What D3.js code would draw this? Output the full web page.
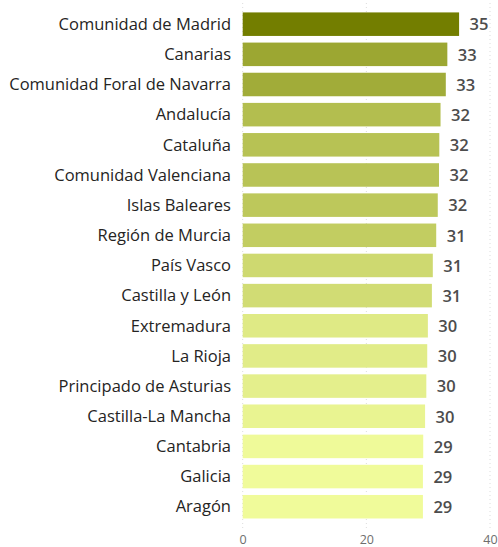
<!DOCTYPE html>
<html><head><meta charset="utf-8">
<script src="https://cdn.jsdelivr.net/npm/d3@7"></script>
<style>body{margin:0;background:#fff;} svg{display:block;}</style>
</head><body><div id="chart"></div>
<script>
const categories = ["Comunidad de Madrid","Canarias","Comunidad Foral de Navarra","Andalucía","Cataluña","Comunidad Valenciana","Islas Baleares","Región de Murcia","País Vasco","Castilla y León","Extremadura","La Rioja","Principado de Asturias","Castilla-La Mancha","Cantabria","Galicia","Aragón"];
const values = [35.0,33.1,32.85,32.0,31.8,31.75,31.55,31.3,30.75,30.6,29.95,29.85,29.7,29.5,29.2,29.15,29.15];
const xTicks = [0,20,40];

const W = 498, H = 547;
const svg = d3.select("#chart").append("svg").attr("width",W).attr("height",H);
const font = "'Open Sans', 'Noto Sans', sans-serif";

const x = d3.scaleLinear().domain([0,40]).range([242.7,490]);
const y = d3.scaleBand().domain(categories).range([9.1,521.8]).paddingInner(0.22).paddingOuter(0.11);
const color = d3.scaleLinear().domain([d3.min(values), d3.max(values)]).range(["#f0fb9a","#737e00"]);

// gridlines
svg.append("g").selectAll("line").data(xTicks).join("line")
  .attr("x1",d=>x(d)).attr("x2",d=>x(d)).attr("y1",3).attr("y2",528)
  .attr("stroke","#dcdcdc").attr("stroke-width",1).attr("stroke-dasharray","1,3");

// bars
svg.append("g").selectAll("rect").data(categories).join("rect")
  .attr("x",x(0)).attr("y",d=>y(d))
  .attr("width",(d,i)=>x(values[i])-x(0)).attr("height",y.bandwidth())
  .attr("fill",(d,i)=>color(values[i]));

// category labels
svg.append("g").selectAll("text").data(categories).join("text")
  .attr("x",231).attr("y",d=>y(d)+y.bandwidth()/2).attr("dy","0.35em")
  .attr("text-anchor","end").attr("font-family",font).attr("font-size","16.5px")
  .attr("fill","#252423").text(d=>d);

// value labels
svg.append("g").selectAll("text").data(categories).join("text")
  .attr("x",(d,i)=>x(values[i])+10.5).attr("y",d=>y(d)+y.bandwidth()/2).attr("dy","0.38em")
  .attr("font-family",font).attr("font-size","16.5px").attr("font-weight","600")
  .attr("fill","#4d4d4d").text((d,i)=>Math.round(values[i]));

// x axis
const ax = svg.append("g").attr("transform","translate(0,533)")
  .call(d3.axisBottom(x).tickValues(xTicks).tickSize(0).tickPadding(2));
ax.select(".domain").remove();
ax.selectAll("text").attr("font-family",font).attr("font-size","12.5px").attr("fill","#6e6e6e");
</script></body></html>
